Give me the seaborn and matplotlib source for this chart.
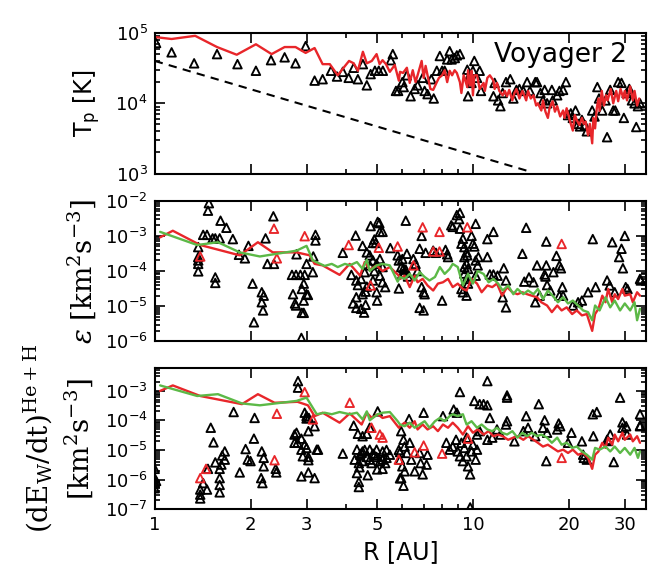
import numpy as np
import matplotlib
matplotlib.use("Agg")
import matplotlib.pyplot as plt
import matplotlib.ticker as mticker
import seaborn as sns

RED = "#e8262a"
GREEN = "#5cb947"

# ---------------- top panel: proton temperature ----------------
top_R_tri = [1.01, 1.13, 1.33, 1.57, 1.82, 2.08, 2.32, 2.56, 2.77, 2.98, 3.18, 3.37, 3.58, 3.74,
             3.90, 4.07, 4.22, 4.35, 4.51, 4.64, 4.77, 4.92, 5.06, 5.21, 5.52, 5.60, 5.73, 5.82,
             6.0, 6.06, 6.2, 6.37, 6.56, 6.7, 6.95, 7.05, 7.2, 7.4, 7.53, 7.7, 7.87, 8.0, 8.15,
             8.3, 8.45, 8.57, 8.77, 8.9, 9.1, 9.6, 9.65, 9.77, 9.9, 10.0, 10.1, 10.3, 10.5, 10.6,
             11.6, 11.7, 12.0, 12.2, 12.4, 12.7, 13.1, 13.4, 13.7, 14.0, 14.4, 14.8, 15.1, 15.7,
             15.9, 16.3, 16.6, 16.8, 17.1, 17.7, 17.8, 18.4, 18.7, 19.2, 19.6,
             19.9, 20.3, 20.6, 21.0, 21.4, 21.7, 22.0, 22.5, 22.8, 23.7, 24.1, 24.6, 24.9, 25.5,
             26.1, 26.4, 27.0, 27.6, 28.0, 28.6, 29.3, 29.8, 30.4, 31.0, 31.6, 32.2, 32.6, 33.0, 33.5]
top_T_tri = [7.2e4, 5.3e4, 3.7e4, 5.0e4, 3.6e4, 2.9e4, 4.1e4, 4.5e4, 3.7e4, 6.5e4, 2.1e4, 2.2e4, 2.9e4, 2.4e4,
             2.8e4, 2.3e4, 3.2e4, 2.2e4, 3.6e4, 1.8e4, 2.6e4, 2.9e4, 2.9e4, 2.9e4, 4.1e4, 5.0e4, 1.5e4, 1.5e4,
             2.0e4, 1.7e4, 2.5e4, 1.26e4, 1.6e4, 1.8e4, 2.3e4, 1.5e4, 1.35e4, 2.2e4, 1.17e4, 2.9e4, 4.7e4, 2.9e4, 2.9e4,
             4.2e4, 5.5e4, 4.2e4, 4.4e4, 4.8e4, 5.0e4, 3.0e4, 1.26e4, 2.5e4, 1.95e4, 2.9e4, 4.0e4, 2.3e4, 2.9e4, 1.5e4,
             1.26e4, 1.95e4, 1.1e4, 9.1e3, 1.4e4, 2.0e4, 2.2e4, 1.17e4, 1.55e4, 1.6e4, 1.5e4, 2.0e4, 1.5e4, 2.0e4,
             2.0e4, 1.4e4, 1.1e4, 1.55e4, 1.0e4, 1.55e4, 1.1e4, 1.3e4, 1.5e4, 1.55e4, 2.0e4,
             6.8e3, 7.2e3, 6.2e3, 7.9e3, 5.1e3, 4.7e3, 5.8e3, 4.9e3, 4.0e3, 7.9e3, 6.5e3, 1.7e4, 1.17e4, 7.9e3,
             1.1e4, 3.3e3, 1.55e4, 7.9e3, 7.9e3, 2.0e4, 1.95e4, 6.2e3, 1.4e4, 1.6e4, 1.1e4, 1.0e4, 4.6e3, 9.1e3, 1.0e4]

top_R_red = [1.01, 1.13, 1.34, 1.57, 1.81, 2.08, 2.33, 2.56, 2.77, 2.98, 3.18, 3.37, 3.55, 3.76,
             3.90, 4.08, 4.22, 4.35, 4.51, 4.64, 4.81, 4.98, 5.09, 5.2, 5.33, 5.48, 5.68, 5.85,
             5.9, 6.03, 6.2, 6.33, 6.47, 6.6, 6.7, 6.9, 7.0, 7.1, 7.35, 7.5, 7.7, 7.82, 8.0, 8.15,
             8.3, 8.45, 8.6, 8.76, 8.9, 9.1, 9.2, 9.35, 9.6, 9.65, 9.8, 9.9, 10.0, 10.1, 10.3, 10.5,
             10.8, 10.9, 11.1, 11.3, 11.6, 11.7, 11.9, 12.1, 12.4, 12.6, 12.8, 13.0, 13.3, 13.5,
             13.7, 14.0, 14.3, 14.5, 14.7, 14.9, 15.2, 15.5, 15.8, 16.0, 16.4, 16.6, 16.9, 17.2,
             17.4, 17.8, 18.1, 18.4, 18.8, 19.2, 19.4, 19.7, 20.2, 20.6, 20.9, 21.2, 21.6, 22.0,
             22.3, 22.6, 23.0, 23.3, 23.7, 23.9, 24.2, 24.5, 24.8, 25.0, 25.4, 25.8, 26.2, 26.5,
             27.1, 27.6, 28.2, 28.6, 29.1, 29.7, 30.0, 30.5, 31.2, 31.8, 32.2, 32.8, 33.3]
top_T_red = [8.7e4, 8.2e4, 9.1e4, 6.3e4, 4.9e4, 6.9e4, 5.0e4, 6.3e4, 6.3e4, 5.2e4, 6.1e4, 3.6e4, 3.6e4, 2.5e4,
             3.1e4, 4.0e4, 3.7e4, 2.9e4, 5.4e4, 3.7e4, 4.0e4, 5.0e4, 3.6e4, 4.1e4, 3.6e4, 2.8e4, 3.5e4, 2.1e4,
             2.8e4, 2.7e4, 3.2e4, 1.95e4, 2.95e4, 2.0e4, 2.5e4, 4.0e4, 2.3e4, 3.4e4, 1.6e4, 1.55e4, 2.0e4, 2.3e4, 2.5e4, 2.95e4,
             2.0e4, 2.9e4, 2.5e4, 2.95e4, 2.7e4, 2.0e4, 1.4e4, 2.5e4, 1.7e4, 2.95e4, 1.8e4, 2.9e4, 1.3e4, 2.5e4, 2.5e4, 1.6e4,
             1.95e4, 1.5e4, 2.3e4, 2.5e4, 2.1e4, 1.6e4, 1.95e4, 1.5e4, 1.3e4, 1.5e4, 1.26e4, 1.55e4, 1.1e4, 1.4e4,
             1.6e4, 1.17e4, 1.5e4, 1.3e4, 1.1e4, 1.5e4, 1.17e4, 1.3e4, 9.3e3, 1.0e4, 7.9e3, 1.1e4, 7.6e3, 6.2e3,
             8.5e3, 1.07e4, 7.6e3, 9.1e3, 6.5e3, 7.9e3, 6.2e3, 8.5e3, 5.5e3, 4.1e3, 6.8e3, 5.8e3, 4.9e3, 6.2e3,
             5.1e3, 5.5e3, 3.5e3, 5.1e3, 2.7e3, 6.2e3, 4.4e3, 8.5e3, 1.17e4, 7.8e3, 1.5e4, 9.3e3, 1.3e4, 1.1e4,
             1.6e4, 1.0e4, 1.5e4, 1.07e4, 1.6e4, 1.17e4, 1.5e4, 1.1e4, 1.74e4, 1.1e4, 1.5e4, 9.3e3, 1.17e4]

dash_R = [1.0, 15.0]
dash_T = [4.0e4, 1.08e3]

# ---------------- middle panel: epsilon ----------------
mid_R_tri = [1.48, 1.47, 1.61, 1.68, 1.42, 1.46, 1.52, 1.55, 1.60, 1.76, 1.37, 1.37, 1.37, 1.37, 1.37,
             1.55, 1.55, 1.97, 1.92, 1.84, 2.03, 2.17, 2.2, 2.17, 2.19, 2.05, 2.36, 2.23, 2.26, 2.37,
             2.79, 2.70, 2.78, 2.87, 2.96, 3.0, 2.94, 3.0, 3.03, 2.72, 2.76, 2.78, 2.90, 2.94, 2.90,
             2.94, 2.89, 3.14, 3.2, 3.2, 3.15, 3.9, 4.28, 4.5, 4.77, 5.02, 5.08, 5.1, 5.2, 4.9, 4.95,
             4.85, 4.64, 4.74, 4.85, 4.98, 5.1, 5.2, 4.9, 4.74, 4.57, 5.1, 5.2, 5.3, 4.85, 4.98, 4.15,
             4.3, 4.45, 4.35, 4.5, 4.6, 4.64, 4.2, 4.3, 4.45, 4.55, 4.6, 5.0, 5.5, 5.8, 5.85, 5.85, 4.3,
             6.15, 6.2, 6.0, 5.95, 6.05, 6.15, 6.0, 6.1, 6.25, 6.5, 6.6, 6.7, 6.8, 6.9, 7.0, 6.8, 7.0,
             6.9, 7.05, 7.1, 7.5, 7.65, 8.0, 8.2, 8.3, 8.35, 8.55, 8.64, 8.9, 9.05, 9.1, 9.1, 9.2, 9.3,
             9.4, 9.55, 9.4, 9.55, 9.65, 9.4, 9.55, 9.65, 9.2, 9.3, 9.55, 9.4, 9.6, 9.9, 10.0, 10.1,
             10.2, 10.2, 10.35, 10.2, 10.4, 11.1, 11.1, 11.3, 11.6, 11.95, 11.6, 12.5, 12.7, 12.4, 12.7,
             14.3, 14.7, 14.5, 15.0, 15.5, 15.7, 16.2, 15.9, 17.0, 17.0, 16.8, 16.9, 17.1, 17.5, 17.9,
             18.3, 18.7, 18.9, 19.1, 18.7, 19.2, 20.6, 21.4, 22.0, 23.8, 23.0, 24.3, 26.4, 26.9, 27.4,
             27.9, 28.8, 29.3, 29.6, 30.0, 30.2, 30.6, 33.5, 33.7]
mid_eps_tri = [8.5e-3, 5.2e-3, 2.7e-3, 1.7e-3, 1.07e-3, 1.07e-3, 8.5e-4, 8.5e-4, 8.5e-4, 8.1e-4, 4.8e-4, 2.5e-4, 2.0e-4, 1.6e-4, 9.8e-5,
               6.6e-5, 4.6e-5, 5.2e-4, 2.3e-4, 2.9e-4, 4.4e-5, 2.5e-5, 2.0e-5, 1.3e-5, 7.6e-6, 3.5e-6, 3.6e-3, 8.5e-4, 1.6e-4, 1.6e-4,
               3.0e-4, 7.8e-5, 7.8e-5, 7.8e-5, 7.8e-5, 1.6e-4, 4.4e-5, 2.2e-5, 2.1e-5, 2.2e-5, 1.2e-5, 1.05e-5, 3.1e-5, 1.45e-5, 6.5e-6,
               6.5e-6, 1.26e-6, 9.3e-5, 1.07e-3, 7.4e-4, 2.6e-4, 3.3e-4, 1.02e-3, 5.2e-4, 1.9e-3, 2.5e-3, 2.3e-3, 1.3e-3, 1.3e-3, 7.9e-4, 6.3e-4,
               6.3e-4, 3.4e-4, 2.8e-4, 2.0e-4, 1.6e-4, 2.2e-4, 1.3e-4, 1.0e-4, 1.45e-4, 9.3e-5, 7.4e-5, 4.8e-5, 3.5e-5, 5.4e-5, 2.5e-5, 7.8e-5,
               5.4e-5, 6.0e-5, 4.0e-5, 2.2e-5, 2.6e-5, 3.6e-5, 1.2e-5, 9.0e-6, 8.5e-6, 6.6e-6, 1.1e-5, 1.45e-5, 4.5e-4, 2.8e-4, 2.0e-4, 3.2e-5, 1.8e-5,
               2.7e-3, 3.1e-4, 2.2e-4, 1.3e-4, 1.2e-4, 1.1e-4, 8.3e-5, 9.0e-5, 7.0e-5, 2.2e-4, 1.6e-4, 1.0e-4, 4.3e-4, 3.5e-5, 2.5e-5, 9.0e-6, 7.6e-6,
               1.0e-3, 2.2e-5, 3.3e-4, 3.8e-4, 3.3e-4, 1.45e-5, 4.0e-4, 3.0e-4, 2.5e-4, 2.0e-3, 1.8e-3, 3.9e-3, 3.0e-3, 4.5e-3, 1.6e-3, 6.0e-4, 8.3e-4,
               4.8e-4, 3.4e-4, 2.5e-4, 1.6e-4, 1.15e-4, 8.5e-5, 6.0e-5, 4.4e-5, 3.1e-5, 2.5e-5, 2.0e-5, 1.3e-4, 2.8e-4, 1.0e-3, 6.0e-4, 5.0e-4,
               2.2e-3, 2.0e-4, 1.45e-4, 7.4e-5, 2.5e-4, 8.1e-4, 2.5e-4, 8.0e-5, 8.0e-5, 7.4e-5, 1.3e-3, 1.2e-4, 5.4e-5, 1.8e-5, 9.3e-6,
               3.1e-4, 1.7e-3, 5.0e-5, 6.6e-5, 4.8e-5, 1.3e-5, 2.0e-5, 1.45e-4, 1.45e-4, 6.9e-4, 8.0e-5, 7.0e-5, 4.0e-5, 2.8e-5, 9.3e-5,
               2.7e-4, 1.45e-4, 1.2e-4, 3.5e-5, 2.0e-5, 2.0e-5, 1.05e-5, 1.3e-5, 1.45e-5, 8.1e-4, 2.5e-5, 3.5e-5, 5.4e-5, 3.9e-5, 6.6e-4,
               2.5e-5, 2.5e-4, 4.3e-4, 1.2e-4, 1.0e-3, 3.5e-5, 3.1e-5, 6.0e-5, 5.4e-5]

mid_R_redtri = [1.39, 2.37, 2.42, 2.96, 4.07, 5.06, 4.77, 5.8, 6.95, 7.85, 7.5, 7.85, 6.5, 9.6, 19.0]
mid_eps_redtri = [2.6e-4, 1.6e-3, 2.3e-4, 9.8e-4, 5.5e-4, 4.6e-4, 3.9e-5, 5.0e-4, 1.75e-3, 1.3e-3,
                  3.6e-4, 3.6e-4, 1.45e-4, 1.75e-3, 5.9e-4]

mid_R_red = [1.04, 1.14, 1.39, 1.85, 2.11, 2.35, 2.79, 3.07, 3.18, 3.37, 3.81, 4.1, 4.42, 4.57, 4.74,
             4.98, 5.2, 5.48, 5.85,
             5.9, 6.1, 6.33, 6.56, 6.7, 6.95, 7.2, 7.5, 7.76, 8.05, 8.35, 8.64, 8.96, 9.3, 9.55, 9.9,
             10.3, 10.65, 11.1, 11.5, 11.9, 12.35, 12.8, 13.3, 13.8, 14.3, 14.8, 15.3, 15.9, 16.4,
             17.1, 17.7, 18.4, 19.0, 19.7, 20.5, 21.2, 22.0, 22.8, 23.7, 24.2, 24.8, 25.5, 26.1,
             26.6, 27.4, 27.9, 28.6, 29.5, 30.0, 31.2, 31.8, 32.8, 33.5]
mid_eps_red = [9.1e-4, 1.4e-3, 5.5e-4, 2.8e-4, 6.6e-4, 3.4e-4, 3.4e-4, 2.8e-4, 1.6e-4, 1.45e-4, 7.8e-5, 1.6e-4, 7.4e-5, 1.8e-4, 1.1e-4,
               1.45e-4, 1.0e-4, 1.3e-4, 7.4e-5,
               6.0e-5, 7.4e-5, 3.5e-5, 7.4e-5, 4.8e-5, 6.0e-5, 3.9e-5, 2.8e-5, 4.4e-5, 4.8e-5, 6.0e-5, 3.5e-5, 4.4e-5, 3.1e-5, 2.8e-5, 6.0e-5,
               4.4e-5, 2.5e-5, 3.9e-5, 3.5e-5, 4.4e-5, 2.0e-5, 3.5e-5, 2.5e-5, 2.2e-5, 2.5e-5, 2.2e-5, 2.0e-5, 1.8e-5, 1.3e-5,
               1.05e-5, 6.8e-6, 1.05e-5, 7.6e-6, 9.3e-6, 6.0e-6, 7.6e-6, 5.5e-6, 6.0e-6, 2.0e-6, 6.0e-6, 8.5e-6, 2.0e-5, 1.3e-5,
               3.1e-5, 1.3e-5, 2.2e-5, 1.6e-5, 3.1e-5, 2.0e-5, 2.2e-5, 1.3e-5, 2.5e-5, 2.0e-5]

mid_R_green = [1.04, 1.36, 1.58, 1.85, 2.14, 2.79, 3.0, 3.14, 3.42, 3.6, 3.76, 3.96, 4.1, 4.32, 4.5,
               4.64, 4.74, 4.98, 5.2, 5.48, 5.8,
               5.9, 6.1, 6.33, 6.56, 6.8, 7.05, 7.3, 7.6, 7.87, 8.15, 8.45, 8.64, 8.96, 9.3, 9.65, 10.0,
               10.35, 10.8, 11.2, 11.6, 12.0, 12.4, 12.9, 13.4, 13.8, 14.4, 14.9, 15.5, 16.0, 16.6,
               17.2, 17.8, 18.5, 19.2, 19.9, 20.6, 21.4, 22.2, 23.0, 23.7, 24.2, 25.0, 26.1, 27.0,
               27.9, 29.0, 30.0, 31.2, 32.2, 32.8, 33.5]
mid_eps_green = [1.3e-3, 5.5e-4, 6.6e-4, 3.4e-4, 2.6e-4, 3.8e-4, 5.2e-4, 2.0e-4, 1.4e-4, 1.6e-4, 1.3e-4, 1.6e-4, 1.45e-4, 1.8e-4, 1.15e-4,
                 2.1e-4, 1.0e-4, 1.45e-4, 1.6e-4, 1.45e-4, 5.0e-5,
                 6.8e-5, 6.0e-5, 8.3e-5, 5.4e-5, 9.3e-5, 6.8e-5, 5.4e-5, 6.8e-5, 1.3e-4, 8.3e-5, 1.15e-4, 1.6e-4, 1.3e-4, 3.9e-5, 8.3e-5, 4.4e-5,
                 1.0e-4, 8.3e-5, 4.8e-5, 6.0e-5, 4.4e-5, 2.8e-5, 3.9e-5, 2.2e-5, 3.1e-5, 2.2e-5, 2.8e-5, 2.2e-5, 3.1e-5, 1.6e-5,
                 2.8e-5, 2.0e-5, 1.3e-5, 1.8e-5, 1.2e-5, 1.45e-5, 1.05e-5, 7.6e-6, 6.8e-6, 4.0e-6, 1.05e-5, 7.6e-6, 1.8e-5, 9.3e-6,
                 1.45e-5, 7.6e-6, 1.2e-5, 7.6e-6, 1.3e-5, 4.0e-6, 8.5e-6]

# ---------------- bottom panel: dE_W/dt ----------------
bot_R_tri = [1.0, 1.0, 1.0, 1.0, 1.01, 1.39, 1.39, 1.39, 1.42, 1.47, 1.46, 1.50, 1.53, 1.55,
             1.6, 1.6, 1.6, 1.6, 1.62, 1.66, 1.66, 1.63, 1.77, 1.85, 1.93, 1.96, 2.0, 2.05, 2.06,
             2.16, 2.18, 2.17, 2.2, 2.2, 2.4, 2.41, 2.82, 2.82, 2.96, 3.0, 3.05, 3.0, 3.18,
             2.75, 2.79, 2.75, 2.81, 2.89, 3.04, 2.96, 2.89, 3.0, 3.04, 2.92, 3.23, 3.26, 3.04,
             2.89, 3.04, 3.18, 3.9, 4.22, 4.35, 4.5, 4.64, 4.74, 5.02,
             4.32, 4.42, 4.5, 4.64, 4.74, 4.85, 4.98, 5.1, 5.2, 4.25, 4.38, 4.5, 4.74, 4.98, 5.2,
             5.35, 5.48, 5.3, 4.32, 4.38, 4.38, 4.67, 5.2, 5.9, 5.85, 5.9, 4.47, 4.57, 4.4, 4.8,
             5.0, 4.9, 5.35,
             11.1, 9.1, 10.1, 10.5, 10.8, 11.1, 12.8, 12.8, 16.1, 29.0, 23.8, 24.5, 33.5, 7.0, 6.3,
             8.05, 8.7, 8.9, 11.3, 12.8, 12.7, 14.7, 16.8, 18.6, 29.5, 30.3, 33.5, 17.0, 27.7, 22.3,
             26.6, 27.0, 20.4, 22.0, 23.9, 19.9,
             5.95, 6.05, 6.1, 6.2, 5.9, 6.0, 6.1, 5.95, 6.05, 6.33, 6.4, 6.56, 6.8, 6.85, 6.95, 7.15, 7.2,
             8.25, 8.45, 8.64, 8.85, 8.96, 9.1, 9.2, 9.3, 9.4, 9.55, 9.65, 9.8, 9.55, 9.9, 10.0, 10.2,
             10.3, 9.8, 10.3, 10.5, 11.1, 11.5, 11.9, 12.2, 13.5, 14.4, 14.9, 15.7, 16.6, 17.1, 18.4,
             18.8, 22.2, 22.8, 26.4, 29.5, 30.5, 33.5]
bot_E_tri = [2.3e-6, 1.12e-6, 7.6e-7, 5.1e-7, 9.0e-7, 4.6e-7, 3.1e-7, 2.3e-7, 7.6e-7, 2.3e-6, 4.6e-7, 5.6e-5, 1.8e-5, 3.8e-6,
             1.12e-6, 6.6e-7, 3.7e-7, 2.3e-6, 3.2e-6, 4.7e-6, 8.9e-6, 6.5e-6, 1.9e-4, 1.74e-6, 1.07e-5, 4.7e-6, 4.2e-6, 2.4e-5, 1.2e-4,
             1.12e-6, 7.6e-7, 8.9e-6, 5.4e-6, 2.8e-6, 2.3e-6, 1.74e-6, 2.1e-3, 1.26e-3, 1.8e-4, 1.4e-4, 1.2e-4, 1.15e-4, 6.3e-5,
             3.3e-5, 3.8e-5, 1.74e-5, 1.74e-5, 2.4e-5, 4.3e-5, 1.5e-5, 1.02e-5, 1.17e-5, 5.8e-6, 6.1e-6, 1.02e-5, 1.02e-5, 4.5e-6,
             1.28e-6, 1.74e-6, 1.12e-6, 7.5e-6, 6.6e-5, 3.5e-5, 2.9e-5, 3.5e-5, 5.6e-5, 2.0e-4,
             1.02e-5, 6.9e-6, 8.9e-6, 5.8e-6, 4.7e-6, 7.5e-6, 5.8e-6, 4.2e-6, 4.7e-6, 4.7e-6, 3.6e-6, 4.2e-6, 1.02e-5, 1.02e-5, 8.9e-6,
             5.4e-6, 6.9e-6, 3.6e-6, 1.66e-6, 8.3e-7, 5.6e-7, 1.4e-6, 2.3e-6, 1.1e-6, 1.0e-5, 8.5e-6, 7.9e-6, 1.0e-5, 2.6e-6, 3.6e-6,
             2.2e-6, 6.6e-6, 1.0e-5,
             2.1e-3, 9.0e-4, 4.5e-4, 3.5e-4, 3.5e-4, 3.2e-4, 6.9e-4, 5.8e-4, 3.5e-4, 5.8e-4, 1.6e-4, 1.9e-4, 1.6e-4, 1.8e-4, 1.1e-4,
             1.38e-4, 2.3e-4, 1.8e-4, 1.2e-4, 9.3e-5, 7.2e-5, 1.38e-4, 1.0e-4, 7.8e-5, 8.5e-5, 6.3e-5, 6.6e-5, 4.2e-6, 3.9e-6, 5.4e-6,
             2.0e-5, 3.3e-5, 3.8e-5, 1.95e-5, 2.9e-5, 1.74e-5,
             4.3e-5, 2.2e-5, 1.3e-5, 7.9e-6, 4.7e-6, 2.8e-6, 1.9e-6, 1.12e-6, 6.2e-7, 1.74e-5, 4.7e-6, 1.9e-6, 7.9e-6, 3.6e-6, 1.5e-6, 3.2e-6, 6.9e-6,
             1.74e-5, 1.02e-5, 1.3e-5, 2.2e-5, 8.9e-6, 6.1e-6, 1.74e-5, 4.2e-6, 1.17e-5, 2.6e-5, 2.8e-6, 1.5e-6, 6.1e-6, 8.9e-6, 1.5e-5, 4.7e-6,
             1.02e-5, 1.15e-7, 3.3e-5, 4.3e-5, 2.2e-5, 2.6e-5, 4.9e-5, 3.3e-5, 1.95e-5, 4.3e-5, 5.6e-5, 2.9e-5, 5.6e-5, 3.8e-5, 4.9e-5,
             6.3e-5, 6.9e-6, 4.7e-6, 2.2e-5, 5.6e-5, 3.3e-5, 6.3e-5]

bot_R_redtri = [1.39, 1.45, 2.38, 2.42, 2.96, 3.14, 4.1, 4.8, 5.1, 5.2, 5.85, 6.56, 7.0, 8.0, 9.65, 19.0]
bot_E_redtri = [1.12e-6, 2.3e-6, 4.5e-6, 1.66e-4, 8.9e-4, 1.07e-4, 3.9e-4, 5.6e-5, 3.3e-5, 2.6e-5,
                4.7e-6, 8.3e-6, 1.4e-5, 7.5e-6, 2.4e-5, 5.4e-6]

bot_R_red = [1.04, 1.14, 1.39, 1.88, 2.11, 2.38, 2.81, 3.03, 3.18, 3.37, 3.81, 4.1, 4.47, 4.64, 4.81,
             5.02, 5.2, 5.48, 5.85,
             5.9, 6.1, 6.33, 6.56, 6.7, 6.95, 7.2, 7.5, 7.76, 8.05, 8.35, 8.64, 8.96, 9.3, 9.65, 10.0,
             10.35, 10.8, 11.2, 11.6, 12.0, 12.4, 12.9, 13.4, 13.8, 14.4, 14.9, 15.5, 16.0, 16.6,
             17.2, 17.8, 18.5, 19.2, 19.9, 20.6, 21.4, 22.2, 23.0, 23.7, 24.2, 24.8, 25.5, 26.1,
             26.6, 27.4, 27.9, 28.6, 29.5, 30.0, 31.2, 31.8, 32.8, 33.5]
bot_E_red = [9.8e-4, 1.5e-3, 6.6e-4, 3.5e-4, 7.6e-4, 3.9e-4, 4.2e-4, 3.2e-4, 1.38e-4, 1.8e-4, 8.3e-5, 1.7e-4, 7.2e-5, 1.8e-4, 1.2e-4,
             1.6e-4, 1.2e-4, 1.38e-4, 5.6e-5,
             6.3e-5, 8.3e-5, 5.6e-5, 9.3e-5, 4.9e-5, 7.2e-5, 4.9e-5, 6.3e-5, 4.3e-5, 7.2e-5, 5.6e-5, 8.3e-5, 5.6e-5, 3.3e-5, 6.3e-5, 3.8e-5,
             4.9e-5, 3.3e-5, 4.3e-5, 2.9e-5, 3.3e-5, 2.9e-5, 2.2e-5, 2.6e-5, 2.9e-5, 2.2e-5, 2.9e-5, 2.2e-5, 1.74e-5, 1.3e-5,
             1.5e-5, 1.17e-5, 8.9e-6, 1.02e-5, 7.9e-6, 1.02e-5, 6.9e-6, 7.9e-6, 5.4e-6, 2.3e-6, 6.9e-6, 8.9e-6, 1.74e-5, 1.17e-5,
             2.6e-5, 1.5e-5, 3.3e-5, 1.95e-5, 3.8e-5, 2.2e-5, 3.3e-5, 1.95e-5, 2.9e-5, 1.74e-5]

bot_R_green = [1.04, 1.36, 1.58, 1.88, 2.14, 2.79, 3.0, 3.23, 3.42, 3.6, 3.81, 4.1, 4.32, 4.5, 4.64,
               4.74, 5.02, 5.2, 5.48, 5.8,
               5.9, 6.1, 6.33, 6.56, 6.8, 7.05, 7.3, 7.6, 7.87, 8.15, 8.45, 8.64, 8.96, 9.3, 9.55, 9.9,
               10.3, 10.65, 11.1, 11.5, 11.9, 12.35, 12.8, 13.3, 13.8, 14.3, 14.8, 15.3, 15.9, 16.4,
               17.1, 17.7, 18.4, 19.0, 19.7, 20.5, 21.2, 22.0, 22.8, 23.7, 24.2, 25.0, 26.1, 27.0,
               27.9, 29.0, 30.0, 31.2, 32.2, 33.0, 33.5]
bot_E_green = [1.5e-3, 6.6e-4, 7.6e-4, 3.7e-4, 3.2e-4, 4.5e-4, 5.8e-4, 1.6e-4, 1.8e-4, 1.6e-4, 1.9e-4, 1.6e-4, 1.8e-4, 1.07e-4, 2.0e-4,
               1.0e-4, 1.6e-4, 1.8e-4, 1.9e-4, 9.3e-5,
               7.2e-5, 6.3e-5, 8.3e-5, 5.6e-5, 7.2e-5, 9.3e-5, 5.6e-5, 9.3e-5, 1.2e-4, 9.3e-5, 1.38e-4, 1.6e-4, 1.38e-4, 1.6e-4, 7.2e-5, 9.3e-5,
               5.6e-5, 7.2e-5, 4.9e-5, 4.3e-5, 5.6e-5, 3.8e-5, 3.3e-5, 4.3e-5, 2.6e-5, 3.8e-5, 2.9e-5, 3.8e-5, 2.9e-5, 3.3e-5,
               2.6e-5, 1.74e-5, 2.6e-5, 1.5e-5, 1.74e-5, 1.17e-5, 1.3e-5, 8.9e-6, 6.9e-6, 4.7e-6, 1.17e-5, 1.02e-5, 1.3e-5, 8.9e-6,
               1.3e-5, 7.9e-6, 1.17e-5, 6.9e-6, 1.17e-5, 5.4e-6, 8.9e-6]

x_ticks = [1, 2, 3, 5, 10, 20, 30]
x_minor = [4, 6, 7, 8, 9]

# ---------------- figure ----------------
sns.set_style("ticks")
plt.rcParams["font.family"] = ["DejaVu Sans"]
plt.rcParams["mathtext.fontset"] = "dejavuserif"
plt.rcParams["text.color"] = "black"
plt.rcParams["axes.labelcolor"] = "black"
plt.rcParams["xtick.color"] = "black"
plt.rcParams["ytick.color"] = "black"

fig, axes = plt.subplots(3, 1, figsize=(6.64, 5.88), dpi=100, sharex=True)
fig.subplots_adjust(left=0.233, right=0.973, top=0.944, bottom=0.134, hspace=0.192)
ax_t, ax_m, ax_b = axes

tri = dict(marker="^", s=38, facecolor="none", linewidth=1.35, legend=False)


def tri_plot(ax, x, y, col):
    sns.scatterplot(x=x, y=y, edgecolor=col, ax=ax, **tri)


def line_plot(ax, x, y, col, **kw):
    sns.lineplot(x=x, y=y, sort=False, estimator=None, color=col, ax=ax, **kw)


# top
tri_plot(ax_t, top_R_tri, top_T_tri, "black")
line_plot(ax_t, top_R_red, top_T_red, RED, lw=1.7)
line_plot(ax_t, dash_R, dash_T, "black", lw=1.5, linestyle=(0, (4, 3)))
ax_t.set_ylim(1e3, 1e5)
ax_t.set_ylabel("T$_{\\mathdefault{p}}$ [K]", fontsize=17)
ax_t.yaxis.set_label_coords(-0.105, 0.5)
ax_t.text(0.962, 0.84, "Voyager 2", transform=ax_t.transAxes, ha="right", va="center",
          fontsize=19, color="black")

# middle
tri_plot(ax_m, mid_R_tri, mid_eps_tri, "black")
tri_plot(ax_m, mid_R_redtri, mid_eps_redtri, RED)
line_plot(ax_m, mid_R_red, mid_eps_red, RED, lw=1.7)
line_plot(ax_m, mid_R_green, mid_eps_green, GREEN, lw=1.7)
ax_m.set_ylim(1e-6, 1e-2)
ax_m.set_ylabel(r"$\varepsilon\ [\mathrm{km}^2\mathrm{s}^{-3}]$", fontsize=20)
ax_m.yaxis.set_label_coords(-0.115, 0.5)

# bottom
tri_plot(ax_b, bot_R_tri, bot_E_tri, "black")
tri_plot(ax_b, bot_R_redtri, bot_E_redtri, RED)
line_plot(ax_b, bot_R_red, bot_E_red, RED, lw=1.7)
line_plot(ax_b, bot_R_green, bot_E_green, GREEN, lw=1.7)
ax_b.set_ylim(1e-7, 5.6e-3)
ax_b.set_ylabel(r"$(\mathrm{dE_W/dt})^{\mathrm{He+H}}$" + "\n" + r"$[\mathrm{km}^2\mathrm{s}^{-3}]$",
                fontsize=20, linespacing=1.25)
ax_b.yaxis.set_label_coords(-0.122, 0.5)
ax_b.set_xlabel("R [AU]", fontsize=17)

for ax in axes:
    ax.set_xscale("log")
    ax.set_yscale("log")
for ax in axes:
    ax.set_xlim(1, 35)
    ax.xaxis.set_major_locator(mticker.FixedLocator(x_ticks))
    ax.xaxis.set_minor_locator(mticker.FixedLocator(x_minor))
    ax.xaxis.set_major_formatter(mticker.FixedFormatter([str(t) for t in x_ticks]))
    ax.xaxis.set_minor_formatter(mticker.NullFormatter())
    ax.yaxis.set_major_locator(mticker.LogLocator(base=10, numticks=12))
    ax.yaxis.set_minor_locator(mticker.LogLocator(base=10, subs=np.arange(2, 10), numticks=12))
    ax.yaxis.set_minor_formatter(mticker.NullFormatter())
    ax.tick_params(which="both", direction="in", top=True, right=True, width=1.2, colors="black")
    ax.tick_params(which="major", length=7, labelsize=13, pad=5)
    ax.tick_params(which="minor", length=3.5)
    for s in ax.spines.values():
        s.set_linewidth(1.5)
        s.set_color("black")
ax_t.tick_params(labelbottom=False)
ax_m.tick_params(labelbottom=False)

fig.savefig("out.png", dpi=100, facecolor="white")
